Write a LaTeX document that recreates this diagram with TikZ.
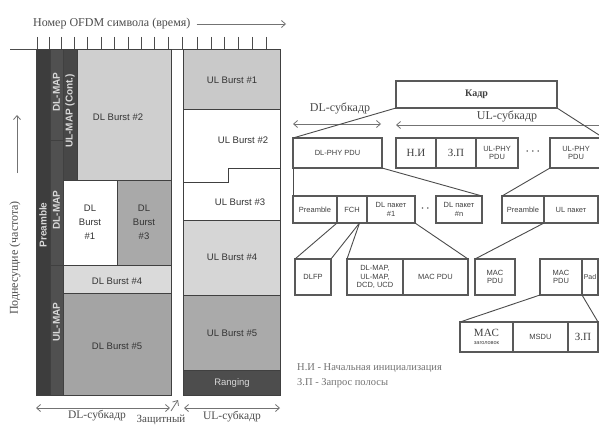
\documentclass[tikz,border=0pt]{standalone}
\usepackage{fontspec}
\setmainfont{Liberation Serif}
\setsansfont{Liberation Sans}
\usetikzlibrary{arrows.meta,calc}
\definecolor{cpre}{HTML}{3D3D3D}
\definecolor{cmap}{HTML}{505050}
\definecolor{ccont}{HTML}{474747}
\definecolor{cb2}{HTML}{CFCFCF}
\definecolor{cb3}{HTML}{A9A9A9}
\definecolor{cb4}{HTML}{DADADA}
\definecolor{cb5}{HTML}{A4A4A4}
\definecolor{cu1}{HTML}{C9C9C9}
\definecolor{cu4}{HTML}{D6D6D6}
\definecolor{cu5}{HTML}{AAAAAA}
\definecolor{crng}{HTML}{4D4D4D}
\tikzset{
 lab/.style={font=\sffamily\fontsize{9.5}{11}\selectfont, text=black!80, align=center, inner sep=0},
 colt/.style={rotate=90, font=\sffamily\bfseries\fontsize{10}{10}\selectfont, text=white!85!black, inner sep=0},
 reg/.style={draw=black!75, line width=1pt, anchor=north west, inner sep=0, outer sep=0},
 rbox/.style={draw=black!65, line width=1.1pt, anchor=north west, inner sep=0, outer sep=0, align=center, font=\sffamily\fontsize{7.5}{8.5}\selectfont, text=black!75},
 ser/.style={font=\fontsize{12}{13}\selectfont, text=black!70, inner sep=0},
 conn/.style={draw=black!70, line width=0.9pt},
 arr/.style={draw=black!55, line width=0.8pt, -{Straight Barb[length=4pt,width=7pt]}},
 dim/.style={draw=black!55, line width=0.8pt, {Straight Barb[length=4pt,width=7pt]}-{Straight Barb[length=4pt,width=7pt]}},
}
\newcommand\regn[6]{\node[reg, fill=#6, minimum width=#4pt, minimum height=#5pt] (#1) at (#2,#3) {};}
\newcommand\rbx[6]{\node[rbox, minimum width=#4pt, minimum height=#5pt] (#1) at (#2,#3) {#6};}
\begin{document}
\begin{tikzpicture}[x=1pt,y=-1pt]
\useasboundingbox (0,0) rectangle (599,425);
\clip (0,0) rectangle (599,425);
\fill[white] (0,0) rectangle (599,425);

% ---------- left: frame structure ----------
\node[ser, anchor=west] (ttl) at (33,24) {Номер OFDM символа (время)};
\coordinate (ttlend) at (286,24);
\draw[arr] ([xshift=6pt]ttl.east) -- (ttlend);

\draw[black!70, line width=1pt] (10,50) -- (280,50);
\foreach \x in {37,49,61,74,87,101,114,128,141,154,168,182,197,211,224,238,252,266}
  \draw[black!70, line width=1pt] (\x,37) -- (\x,50);

% columns
\regn{pre}{36}{50}{14}{345}{cpre}
\regn{dlmapA}{50}{50}{13}{90}{cmap}
\regn{dlmapB}{50}{140}{13}{125}{cmap}
\regn{ulmap}{50}{265}{13}{130}{cmap}
\regn{ulcont}{63}{50}{14}{130}{ccont}
% DL bursts
\regn{b2}{77}{50}{94}{130}{cb2}
\regn{b1}{63}{180}{54}{85}{white}
\regn{b3}{117}{180}{54}{85}{cb3}
\regn{b4}{63}{265}{108}{28}{cb4}
\regn{b5}{63}{293}{108}{102}{cb5}
% UL bursts
\regn{u1}{183}{50}{97}{60}{cu1}
\draw[black!75, line width=1pt, fill=white] (183,110) -- (280,110) -- (280,168) -- (228,168) -- (228,182) -- (183,182) -- cycle;
\draw[black!75, line width=1pt, fill=white] (183,182) -- (228,182) -- (228,168) -- (280,168) -- (280,220) -- (183,220) -- cycle;
\regn{u4}{183}{220}{97}{75}{cu4}
\regn{u5}{183}{295}{97}{75}{cu5}
\regn{rng}{183}{370}{97}{25}{crng}

% column texts
\node[colt] (tpre) at (43,225) {Preamble};
\node[colt] (tdlA) at (56.5,92) {DL-MAP};
\node[colt] (tdlB) at (56.5,210) {DL-MAP};
\node[colt] (tul) at (56.5,322) {UL-MAP};
\node[colt] (tcont) at (70,111) {UL-MAP (Cont.)};

% burst texts
\node[lab] (tb2) at (118,117) {DL Burst \#2};
\node[lab, font=\sffamily\fontsize{9.5}{14}\selectfont] (tb1) at (90,222) {DL\\Burst\\\#1};
\node[lab, font=\sffamily\fontsize{9.5}{14}\selectfont] (tb3) at (144,222) {DL\\Burst\\\#3};
\node[lab] (tb4) at (117,281) {DL Burst \#4};
\node[lab] (tb5) at (117,346) {DL Burst \#5};
\node[lab] (tu1) at (232,80) {UL Burst \#1};
\node[lab] (tu2) at (243,140) {UL Burst \#2};
\node[lab] (tu3) at (240,202) {UL Burst \#3};
\node[lab] (tu4) at (232,257) {UL Burst \#4};
\node[lab] (tu5) at (232,333) {UL Burst \#5};
\node[lab, text=white!85!black] (trng) at (232,383) {Ranging};

% frequency axis
\coordinate (fa1) at (17,173);
\coordinate (fa2) at (17,115);
\draw[arr] (fa1) -- (fa2);
\node[ser, rotate=90] (tfreq) at (15,258) {Поднесущие (частота)};

% bottom dimension arrows
\coordinate (d1) at (36,408);
\coordinate (d2) at (170,408);
\coordinate (d3) at (184,408);
\coordinate (d4) at (280,408);
\draw[dim] (d1) -- (d2);
\draw[dim] (d3) -- (d4);
\coordinate (g1) at (171,411);
\coordinate (g2) at (178,400);
\draw[arr] (g1) -- (g2);
\node[ser, font=\fontsize{11.5}{12}\selectfont] (tdls) at (97,416) {DL-субкадр};
\node[ser, font=\fontsize{11}{12}\selectfont] (tgrd) at (161,420) {Защитный};
\node[ser, font=\fontsize{11.5}{12}\selectfont] (tuls) at (232,417) {UL-субкадр};

% ---------- right: PDU structure ----------
\node[rbox, minimum width=161pt, minimum height=27pt, font=\rmfamily\bfseries\fontsize{10}{11}\selectfont] (kadr) at (396,81) {Кадр};
\node[ser] (rdls) at (340,109) {DL-субкадр};
\node[ser] (ruls) at (507,116) {UL-субкадр};
\coordinate (r1) at (293,124);
\coordinate (r2) at (381,124);
\coordinate (r3) at (396,125);
\coordinate (r4) at (610,125);
\draw[dim] (r1) -- (r2);
\draw[dim] (r4) -- (r3);

% row 1
\rbx{dlphy}{293}{138}{89}{30}{DL-PHY PDU}
\node[rbox, minimum width=40pt, minimum height=30pt, font=\rmfamily\fontsize{11}{12}\selectfont] (ni) at (396,138) {Н.И};
\node[rbox, minimum width=40pt, minimum height=30pt, font=\rmfamily\fontsize{11}{12}\selectfont] (zp) at (436,138) {З.П};
\rbx{ulphyA}{476}{138}{42}{30}{UL-PHY\\PDU}
\node[font=\sffamily\bfseries\fontsize{9}{9}\selectfont, text=black!70, inner sep=0] (dots1) at (533,153) {· · ·};
\rbx{ulphyB}{550}{138}{52}{30}{UL-PHY\\PDU}

% row 2
\rbx{pre2}{293}{196}{44}{27}{Preamble}
\rbx{fch}{337}{196}{30}{27}{FCH}
\rbx{dl1}{367}{196}{48}{27}{DL пакет\\\#1}
\node[font=\sffamily\bfseries\fontsize{9}{9}\selectfont, text=black!70, inner sep=0] (dots2) at (425.5,210) {· ·};
\rbx{dln}{436}{196}{46}{27}{DL пакет\\\#n}
\rbx{upre}{502}{196}{42}{27}{Preamble}
\rbx{upk}{544}{196}{54}{27}{UL пакет}

% row 3
\rbx{dlfp}{295}{259}{36}{36}{DLFP}
\rbx{maps}{347}{259}{56}{36}{DL-MAP,\\UL-MAP,\\DCD, UCD}
\rbx{macd}{403}{259}{65}{36}{MAC PDU}
\rbx{mac1}{475}{259}{40}{36}{MAC\\PDU}
\rbx{mac2}{540}{259}{42}{36}{MAC\\PDU}
\node[rbox, minimum width=16pt, minimum height=36pt, font=\sffamily\fontsize{7}{8}\selectfont] (pad) at (582,259) {Pad};

% row 4
\rbx{mach}{460}{322}{53}{30}{{\rmfamily\fontsize{11}{11}\selectfont MAC}\\[-1pt]{\fontsize{5.5}{6}\selectfont заголовок}}
\rbx{msdu}{513}{322}{55}{30}{MSDU}
\node[rbox, minimum width=30pt, minimum height=30pt, font=\rmfamily\fontsize{11}{12}\selectfont] (zp2) at (568,322) {З.П};

% connectors
\coordinate (kout) at (599,135);
\draw[conn] (kadr.south west) -- (dlphy.north west);
\draw[conn] (kadr.south east) -- (kout);
\draw[conn] (dlphy.south west) -- (pre2.north west);
\draw[conn] (dlphy.south east) -- (dln.north east);
\draw[conn] (ulphyB.south west) -- (upre.north west);
\coordinate (fchs) at ($(fch.south west)!0.75!(fch.south east)$);
\draw[conn] (fch.south west) -- (dlfp.north west);
\draw[conn] (fchs) -- (dlfp.north east);
\draw[conn] (fchs) -- (maps.north west);
\draw[conn] (dl1.south east) -- (macd.north east);
\draw[conn] (upk.south west) -- (mac1.north west);
\draw[conn] (mac2.south west) -- (mach.north west);
\draw[conn] (mac2.south east) -- (zp2.north east);

% legend
\node[ser, anchor=west, font=\fontsize{10.5}{12}\selectfont, text=black!55] (lg1) at (297,368) {Н.И - Начальная инициализация};
\node[ser, anchor=west, font=\fontsize{10.5}{12}\selectfont, text=black!55] (lg2) at (297,383) {З.П - Запрос полосы};
\end{tikzpicture}
\end{document}
